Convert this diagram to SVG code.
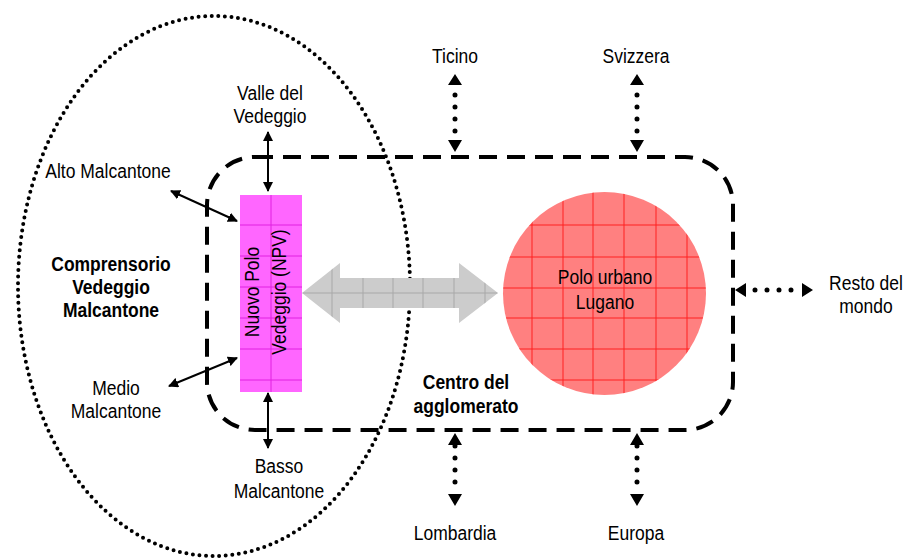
<svg xmlns="http://www.w3.org/2000/svg" width="911" height="558" viewBox="0 0 911 558">
<defs>
<style>
text{font-family:"Liberation Sans",Arial,sans-serif;font-size:17.5px;fill:#000;text-anchor:middle}
.b{font-weight:bold}
.dot{fill:none;stroke:#000;stroke-width:5;stroke-linecap:round;stroke-dasharray:0 12}
.sol{fill:none;stroke:#000;stroke-width:2}
.tri{fill:#000}
</style>
<marker id="ah" viewBox="0 0 10 10" refX="9" refY="5" markerWidth="5" markerHeight="5" orient="auto-start-reverse"><path d="M0,0 L10,5 L0,10 z" fill="#000"/></marker>
</defs>
<rect width="911" height="558" fill="#fff"/>

<g id="comprensorio">
<ellipse cx="214" cy="286" rx="196" ry="270" fill="none" stroke="#000" stroke-width="4" stroke-linecap="round" stroke-dasharray="0 6.6"/>
<text class="b" transform="translate(111,271) scale(1,1.15)">Comprensorio</text>
<text class="b" transform="translate(111,294) scale(1,1.15)">Vedeggio</text>
<text class="b" transform="translate(111,317) scale(1,1.15)">Malcantone</text>
</g>

<g id="centro">
<rect x="207" y="157" width="526" height="273" rx="48" ry="48" fill="none" stroke="#000" stroke-width="4" stroke-dasharray="18 10"/>
<text class="b" transform="translate(466,389) scale(1,1.15)">Centro del</text>
<text class="b" transform="translate(466,413) scale(1,1.15)">agglomerato</text>
</g>

<g id="npv">
<rect x="240" y="195" width="62" height="197" fill="#ff66ff"/>
<g stroke="#e020e0" stroke-width="1">
<line x1="271" y1="195" x2="271" y2="392"/>
<line x1="240" y1="225" x2="302" y2="225"/>
<line x1="240" y1="256" x2="302" y2="256"/>
<line x1="240" y1="287" x2="302" y2="287"/>
<line x1="240" y1="318" x2="302" y2="318"/>
<line x1="240" y1="349" x2="302" y2="349"/>
<line x1="240" y1="380" x2="302" y2="380"/>
</g>
<text transform="translate(259,292) rotate(-90) scale(1,1.15)">Nuovo Polo</text>
<text transform="translate(286,292) rotate(-90) scale(1,1.15)">Vedeggio (NPV)</text>
</g>

<g id="lugano">
<clipPath id="cc"><circle cx="604.5" cy="293.5" r="101.5"/></clipPath>
<circle cx="604.5" cy="293.5" r="101.5" fill="#ff8080"/>
<g clip-path="url(#cc)" stroke="#ff2020" stroke-width="1">
<line x1="532" y1="190" x2="532" y2="400"/>
<line x1="563" y1="190" x2="563" y2="400"/>
<line x1="593" y1="190" x2="593" y2="400"/>
<line x1="624" y1="190" x2="624" y2="400"/>
<line x1="656" y1="190" x2="656" y2="400"/>
<line x1="687" y1="190" x2="687" y2="400"/>
<line x1="500" y1="225" x2="710" y2="225"/>
<line x1="500" y1="257" x2="710" y2="257"/>
<line x1="500" y1="288" x2="710" y2="288"/>
<line x1="500" y1="318" x2="710" y2="318"/>
<line x1="500" y1="349" x2="710" y2="349"/>
<line x1="500" y1="380" x2="710" y2="380"/>
</g>
<text transform="translate(605,284) scale(1,1.15)">Polo urbano</text>
<text transform="translate(605,309) scale(1,1.15)">Lugano</text>
</g>

<g id="labels">
<text transform="translate(455,63) scale(1,1.15)">Ticino</text>
<text transform="translate(636,63) scale(1,1.15)">Svizzera</text>
<text transform="translate(270,100) scale(1,1.15)">Valle del</text>
<text transform="translate(270,123) scale(1,1.15)">Vedeggio</text>
<text transform="translate(108,178) scale(1,1.15)">Alto Malcantone</text>
<text transform="translate(116,395) scale(1,1.15)">Medio</text>
<text transform="translate(116,418) scale(1,1.15)">Malcantone</text>
<text transform="translate(279,473) scale(1,1.15)">Basso</text>
<text transform="translate(279,498) scale(1,1.15)">Malcantone</text>
<text transform="translate(455,540) scale(1,1.15)">Lombardia</text>
<text transform="translate(636,540) scale(1,1.15)">Europa</text>
<text transform="translate(866,290) scale(1,1.15)">Resto del</text>
<text transform="translate(866,313) scale(1,1.15)">mondo</text>
</g>

<g id="connectors">
<g id="big-arrow">
<clipPath id="ac"><path d="M302,293 L340,263 L340,278 L459,278 L459,263 L498,293 L459,323 L459,308 L340,308 L340,323 Z"/></clipPath>
<path d="M302,293 L340,263 L340,278 L459,278 L459,263 L498,293 L459,323 L459,308 L340,308 L340,323 Z" fill="#cccccc"/>
<g clip-path="url(#ac)" stroke="#a8a8a8" stroke-width="1">
<line x1="332" y1="255" x2="332" y2="330"/>
<line x1="363" y1="255" x2="363" y2="330"/>
<line x1="393" y1="255" x2="393" y2="330"/>
<line x1="423" y1="255" x2="423" y2="330"/>
<line x1="454" y1="255" x2="454" y2="330"/>
<line x1="485" y1="255" x2="485" y2="330"/>
<line x1="300" y1="293" x2="500" y2="293"/>
</g>
</g>

<line class="sol" x1="268" y1="132" x2="268" y2="191" marker-start="url(#ah)" marker-end="url(#ah)"/>
<line class="sol" x1="171" y1="191" x2="237" y2="221" marker-start="url(#ah)" marker-end="url(#ah)"/>
<line class="sol" x1="169" y1="386" x2="237" y2="358" marker-start="url(#ah)" marker-end="url(#ah)"/>
<line class="sol" x1="268" y1="393" x2="268" y2="448" marker-start="url(#ah)" marker-end="url(#ah)"/>

<line class="dot" x1="455" y1="95" x2="455" y2="132"/>
<path class="tri" d="M448,85 L462,85 L455,74 Z M448,140 L462,140 L455,152 Z"/>
<line class="dot" x1="637" y1="95" x2="637" y2="132"/>
<path class="tri" d="M630,85 L644,85 L637,74 Z M630,140 L644,140 L637,152 Z"/>

<line class="dot" x1="455" y1="446" x2="455" y2="483"/>
<path class="tri" d="M448,445 L462,445 L455,433 Z M448,494 L462,494 L455,506 Z"/>
<line class="dot" x1="637" y1="446" x2="637" y2="483"/>
<path class="tri" d="M630,445 L644,445 L637,433 Z M630,494 L644,494 L637,506 Z"/>

<line class="dot" x1="755" y1="290" x2="794" y2="290"/>
<path class="tri" d="M746,283 L746,297 L735,290 Z M802,283 L802,297 L813,290 Z"/>
</g>
</svg>
